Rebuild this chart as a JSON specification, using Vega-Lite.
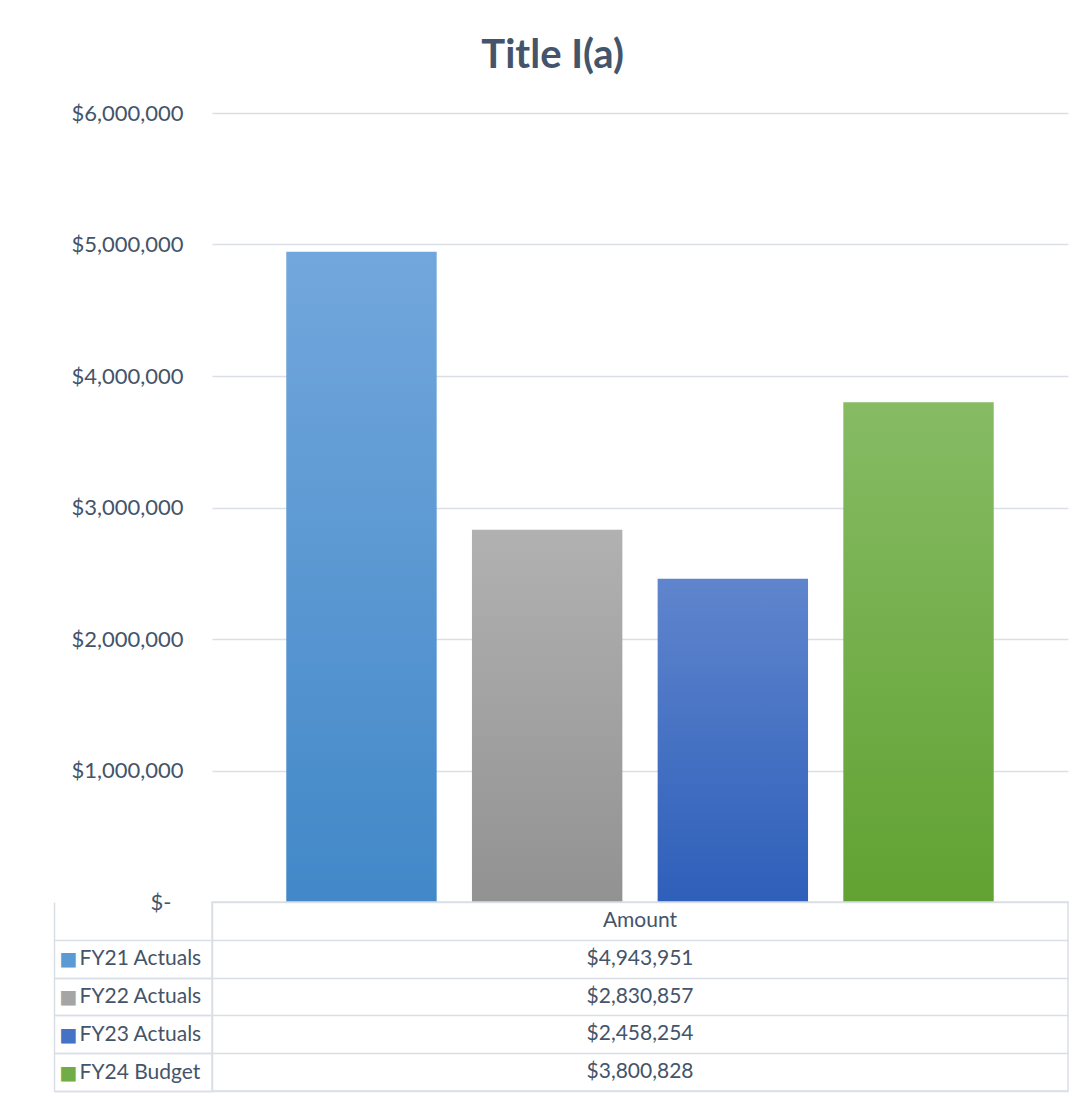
{
  "$schema": "https://vega.github.io/schema/vega-lite/v6.json",
  "padding": {"left": 52, "top": 36, "right": 20, "bottom": 10},
  "bounds": "flush",
  "spacing": 0,
  "title": {
    "text": "Title I(a)",
    "font": "Lato",
    "fontSize": 40,
    "fontWeight": "bold",
    "color": "#44546a",
    "anchor": "middle",
    "dx": -8,
    "offset": 26
  },
  "data": {
    "values": [
      {"series": "FY21 Actuals", "amount": 4943951},
      {"series": "FY22 Actuals", "amount": 2830857},
      {"series": "FY23 Actuals", "amount": 2458254},
      {"series": "FY24 Budget", "amount": 3800828}
    ]
  },
  "vconcat": [
    {
      "width": 856,
      "height": 789,
      "view": {"stroke": null},
      "mark": {"type": "bar"},
      "encoding": {
        "x": {
          "field": "series",
          "type": "nominal",
          "sort": null,
          "axis": null,
          "scale": {"paddingInner": 0.19, "paddingOuter": 0.4}
        },
        "y": {
          "field": "amount",
          "type": "quantitative",
          "scale": {"domain": [0, 6000000]},
          "axis": {
            "title": null,
            "values": [0, 1000000, 2000000, 3000000, 4000000, 5000000, 6000000],
            "labelExpr": "datum.value == 0 ? '$-' : format(datum.value, '$,.0f')",
            "domain": false,
            "ticks": false,
            "grid": true,
            "gridColor": "#dadee5",
            "gridWidth": 1.5,
            "labelFont": "Lato",
            "labelFontSize": 22,
            "labelColor": "#44546a",
            "labelPadding": {"condition": {"test": "datum.value == 0", "value": 41}, "value": 29}
          }
        },
        "color": {
          "condition": [
            {
              "test": "datum.series === 'FY21 Actuals'",
              "value": {
                "gradient": "linear", "x1": 0, "y1": 0, "x2": 0, "y2": 1,
                "stops": [{"offset": 0, "color": "#72a7dc"}, {"offset": 1, "color": "#4288c8"}]
              }
            },
            {
              "test": "datum.series === 'FY22 Actuals'",
              "value": {
                "gradient": "linear", "x1": 0, "y1": 0, "x2": 0, "y2": 1,
                "stops": [{"offset": 0, "color": "#b1b1b1"}, {"offset": 1, "color": "#929292"}]
              }
            },
            {
              "test": "datum.series === 'FY23 Actuals'",
              "value": {
                "gradient": "linear", "x1": 0, "y1": 0, "x2": 0, "y2": 1,
                "stops": [{"offset": 0, "color": "#5f85cd"}, {"offset": 1, "color": "#2e5fba"}]
              }
            }
          ],
          "value": {
            "gradient": "linear", "x1": 0, "y1": 0, "x2": 0, "y2": 1,
            "stops": [{"offset": 0, "color": "#86bb64"}, {"offset": 1, "color": "#61a232"}]
          }
        }
      }
    },
    {
      "width": 856,
      "height": 189,
      "view": {"stroke": "#dadee5", "strokeWidth": 1.5},
      "layer": [
        {
          "data": {"values": [{"column": "Amount"}]},
          "mark": {"type": "text", "font": "Lato", "fontSize": 21, "color": "#44546a"},
          "encoding": {
            "y": {
              "field": "column",
              "type": "nominal",
              "scale": {
                "domain": ["Amount", "FY21 Actuals", "FY22 Actuals", "FY23 Actuals", "FY24 Budget"],
                "paddingInner": 0,
                "paddingOuter": 0
              },
              "axis": {
                "orient": "left",
                "title": null,
                "values": ["FY21 Actuals", "FY22 Actuals", "FY23 Actuals", "FY24 Budget"],
                "domain": true,
                "domainColor": "#dadee5",
                "domainWidth": 1.5,
                "ticks": true,
                "tickBand": "extent",
                "tickSize": 158,
                "tickColor": "#dadee5",
                "tickWidth": 1.5,
                "tickOpacity": {
                  "condition": {"test": "indexof(['FY21 Actuals','FY22 Actuals','FY23 Actuals','FY24 Budget'], datum.value) >= 0", "value": 1},
                  "value": 0
                },
                "grid": true,
                "gridColor": "#dadee5",
                "gridWidth": 1.5,
                "labelAlign": "left",
                "labelBaseline": "middle",
                "labelPadding": -25,
                "labelFont": "Lato",
                "labelFontSize": 21,
                "labelColor": "#44546a"
              }
            },
            "text": {"field": "column", "type": "nominal"}
          }
        },
        {
          "mark": {"type": "text", "font": "Lato", "fontSize": 21, "color": "#44546a"},
          "encoding": {
            "y": {
              "field": "series",
              "type": "nominal",
              "scale": {
                "domain": ["Amount", "FY21 Actuals", "FY22 Actuals", "FY23 Actuals", "FY24 Budget"],
                "paddingInner": 0,
                "paddingOuter": 0
              },
              "axis": {
                "orient": "left",
                "offset": 158,
                "title": null,
                "values": ["FY21 Actuals", "FY22 Actuals", "FY23 Actuals", "FY24 Budget"],
                "domain": true,
                "domainColor": "#dadee5",
                "domainWidth": 1.5,
                "ticks": true,
                "tickBand": "extent",
                "tickSize": -158,
                "tickColor": "#dadee5",
                "tickWidth": 1.5,
                "grid": false,
                "labelExpr": "'■'",
                "labelAlign": "left",
                "labelBaseline": "middle",
                "labelPadding": 153,
                "labelFont": "DejaVu Sans",
                "labelFontSize": 19,
                "labelColor": {
                  "condition": [
                    {"test": "datum.value === 'FY21 Actuals'", "value": "#5b9bd5"},
                    {"test": "datum.value === 'FY22 Actuals'", "value": "#a5a5a5"},
                    {"test": "datum.value === 'FY23 Actuals'", "value": "#4472c4"},
                    {"test": "datum.value === 'FY24 Budget'", "value": "#70ad47"}
                  ],
                  "value": "transparent"
                }
              }
            },
            "text": {"field": "amount", "type": "quantitative", "format": "$,.0f"}
          }
        }
      ],
      "resolve": {"axis": {"y": "independent"}}
    }
  ]
}
